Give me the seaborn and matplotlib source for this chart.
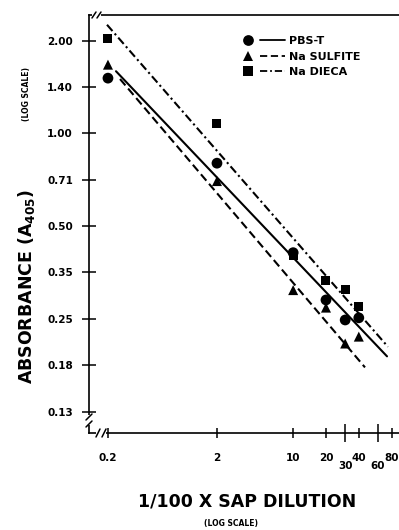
import numpy as np
import pandas as pd
import matplotlib
matplotlib.use('Agg')
import matplotlib.pyplot as plt
import seaborn as sns
from matplotlib.lines import Line2D
from matplotlib.legend_handler import HandlerTuple

# dilution (1/100 x sap dilution) and absorbance readings
dilution = [0.2, 2, 10, 20, 30, 40]
pbs_t = [1.51, 0.80, 0.41, 0.288, 0.248, 0.252]
na_sulfite = [1.67, 0.70, 0.31, 0.272, 0.208, 0.219]
na_dieca = [2.03, 1.08, 0.40, 0.333, 0.312, 0.275]
series_names = ['PBS-T', 'Na SULFITE', 'Na DIECA']

# end points of the fitted lines
pbs_t_fit_x = [0.237, 72.6]
pbs_t_fit_y = [1.59, 0.189]
na_sulfite_fit_x = [0.258, 45.6]
na_sulfite_fit_y = [1.50, 0.174]
na_dieca_fit_x = [0.196, 74.0]
na_dieca_fit_y = [2.25, 0.203]

y_ticks = [2.0, 1.414, 1.0, 0.707, 0.5, 0.354, 0.25, 0.177, 0.125]
y_tick_labels = ['2.00', '1.40', '1.00', '0.71', '0.50', '0.35', '0.25', '0.18', '0.13']
x_ticks = [0.2, 2, 10, 20, 40, 80]
x_tick_labels = ['0.2', '2', '10', '20', '40', '80']
x_low_ticks = [30, 60]
x_low_labels = ['30', '60']


def create_plot():
    sns.set_style('ticks')
    plt.rcParams['font.family'] = ['DejaVu Sans']
    plt.rcParams['mathtext.default'] = 'regular'
    for key in ['text.color', 'axes.labelcolor', 'xtick.color', 'ytick.color',
                'axes.edgecolor']:
        plt.rcParams[key] = 'black'

    fig = plt.figure(figsize=(3.99, 5.30), dpi=100)
    ax = fig.add_axes([89 / 399, 97 / 530, 310 / 399, 418 / 530])
    ax.set_xscale('log')
    ax.set_yscale('log')

    fits = pd.DataFrame({
        'dilution': pbs_t_fit_x + na_sulfite_fit_x + na_dieca_fit_x,
        'absorbance': pbs_t_fit_y + na_sulfite_fit_y + na_dieca_fit_y,
        'buffer': np.repeat(series_names, 2),
    })
    dashes = {'PBS-T': '', 'Na SULFITE': (4, 2), 'Na DIECA': (4, 1.6, 1, 1.6)}
    sns.lineplot(data=fits, x='dilution', y='absorbance', style='buffer',
                 dashes=dashes, color='black', lw=1.5, estimator=None,
                 sort=False, legend=False, ax=ax)

    markers = {'PBS-T': ('o', 60), 'Na SULFITE': ('^', 52), 'Na DIECA': ('s', 42)}
    values = {'PBS-T': pbs_t, 'Na SULFITE': na_sulfite, 'Na DIECA': na_dieca}
    for name in ['Na DIECA', 'Na SULFITE', 'PBS-T']:
        m, s = markers[name]
        sns.scatterplot(x=dilution, y=values[name], marker=m, s=s,
                        color='black', edgecolor='none', ax=ax, zorder=3)

    ax.set_xlim(0.134, 93.5)
    ax.set_ylim(0.1066, 2.42)

    ax.set_yticks(y_ticks)
    ax.set_yticklabels(y_tick_labels)
    ax.yaxis.set_minor_locator(matplotlib.ticker.NullLocator())
    ax.set_xticks(x_ticks)
    ax.set_xticklabels(x_tick_labels)
    ax.set_xticks(x_low_ticks, minor=True)
    ax.set_xticklabels(x_low_labels, minor=True)

    ax.tick_params(axis='y', which='major', direction='inout', length=10,
                   width=1.1, pad=6.5, labelsize=7.5)
    ax.tick_params(axis='x', which='major', direction='inout', length=7,
                   width=1.1, pad=11, labelsize=7.5)
    ax.tick_params(axis='x', which='minor', direction='inout', length=13,
                   width=1.1, pad=13.5, labelsize=7.5)
    for lab in ax.get_xticklabels(which='both') + ax.get_yticklabels():
        lab.set_fontweight('bold')

    ax.spines['right'].set_visible(False)
    for side in ['left', 'bottom', 'top']:
        ax.spines[side].set_linewidth(1.2)

    # axis break marks
    W, H = 310.0, 418.0
    gaps = [((3 / W, 1.0), (12 / W, 1.0)),
            ((0.0, 8 / H), (0.0, 18 / H)),
            ((7 / W, 0.0), (17 / W, 0.0))]
    for (x0, y0), (x1, y1) in gaps:
        ax.plot([x0, x1], [y0, y1], color='white', lw=3, transform=ax.transAxes,
                clip_on=False, zorder=4, solid_capstyle='butt')
    strokes = [(5, 418, -2, -3, 2, 3), (10, 418, -2, -3, 2, 3),
               (0, 9, -3, -3, 3, 3), (0, 16, -3, -3, 3, 3),
               (9, 0, -2, -4, 2, 4), (15, 0, -2, -4, 2, 4)]
    for cx, cy, ax0, ay0, ax1, ay1 in strokes:
        ax.plot([(cx + ax0) / W, (cx + ax1) / W], [(cy + ay0) / H, (cy + ay1) / H],
                color='black', lw=1.1, transform=ax.transAxes, clip_on=False, zorder=5)

    # legend: marker then line sample
    handles = []
    for name, ls in [('PBS-T', '-'), ('Na SULFITE', (0, (4, 2))),
                     ('Na DIECA', (0, (4, 1.6, 1, 1.6)))]:
        m, s = markers[name]
        mk = Line2D([], [], marker=m, ls='none', color='black',
                    markersize=np.sqrt(s), markeredgewidth=0)
        ln = Line2D([], [], ls=ls, color='black', lw=1.3)
        handles.append((mk, ln))
    fig.legend(handles, series_names, loc='upper left',
               bbox_to_anchor=(235 / 399, 1 - 36 / 530),
               bbox_transform=fig.transFigure, frameon=False,
               handler_map={tuple: HandlerTuple(ndivide=None, pad=0)},
               handlelength=4.5, handletextpad=0.4, borderpad=0,
               borderaxespad=0, labelspacing=0.5,
               prop={'size': 8, 'weight': 'bold'})

    ax.set_xlabel('')
    ax.set_ylabel('')
    fig.text(247 / 399, 1 - 502 / 530, '1/100 X SAP DILUTION', ha='center',
             va='center', fontsize=12.5, fontweight='bold')
    fig.text(231 / 399, 2 / 530, '(LOG SCALE)', ha='center', va='bottom',
             fontsize=5.5, fontweight='bold')
    fig.text(27 / 399, 1 - 286 / 530, 'ABSORBANCE (A$_{405}$)', rotation=90,
             ha='center', va='center', fontsize=12.5, fontweight='bold')
    fig.text(26 / 399, 1 - 94 / 530, '(LOG SCALE)', rotation=90,
             ha='center', va='center', fontsize=5.5, fontweight='bold')

    fig.savefig('out.png', dpi=100)
    plt.close(fig)


if __name__ == '__main__':
    create_plot()
